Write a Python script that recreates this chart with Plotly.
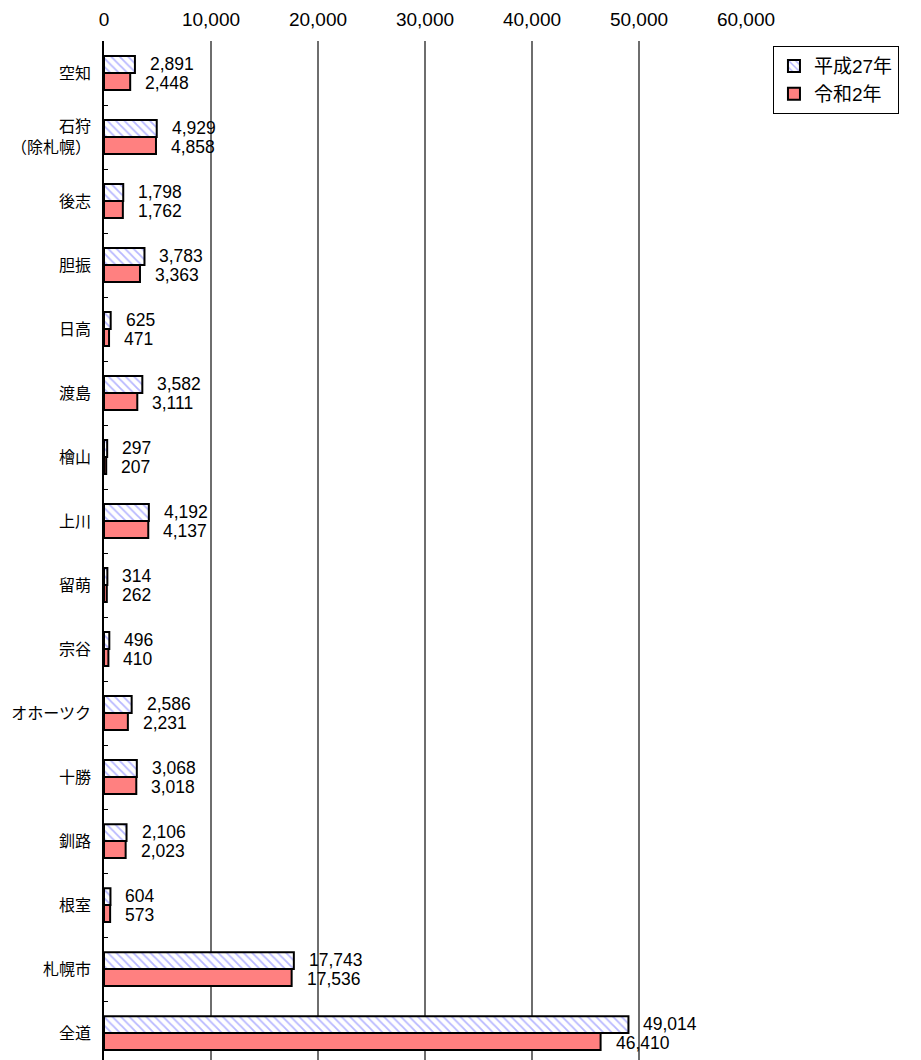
import plotly.graph_objects as go

categories = ["空知", "石狩<br>（除札幌）", "後志", "胆振", "日高", "渡島", "檜山", "上川",
              "留萌", "宗谷", "オホーツク", "十勝", "釧路", "根室", "札幌市", "全道"]
h27 = [2891, 4929, 1798, 3783, 625, 3582, 297, 4192, 314, 496, 2586, 3068, 2106, 604, 17743, 49014]
r2 = [2448, 4858, 1762, 3363, 471, 3111, 207, 4137, 262, 410, 2231, 3018, 2023, 573, 17536, 46410]
series_names = ["平成27年", "令和2年"]
x_ticks = [0, 10000, 20000, 30000, 40000, 50000, 60000]

FONT = "Liberation Sans, Noto Sans CJK JP, sans-serif"

fig = go.Figure()
fig.add_trace(go.Bar(
    y=categories, x=h27, orientation="h", name=series_names[0],
    marker=dict(color="white", line=dict(color="black", width=2),
                pattern=dict(shape="\\", fgcolor="#7070ff", bgcolor="white", size=6, solidity=0.3)),
))
fig.add_trace(go.Bar(
    y=categories, x=r2, orientation="h", name=series_names[1],
    marker=dict(color="#ff8080", line=dict(color="black", width=2)),
))

annotations = []
for c, v in zip(categories, h27):
    annotations.append(dict(x=v, y=c, xref="x", yref="y", text=f"{v:,}", showarrow=False,
                            xanchor="left", yanchor="middle", xshift=13, yshift=9.5,
                            font=dict(size=17.5, color="black", family=FONT)))
for c, v in zip(categories, r2):
    annotations.append(dict(x=v, y=c, xref="x", yref="y", text=f"{v:,}", showarrow=False,
                            xanchor="left", yanchor="middle", xshift=13, yshift=-9.5,
                            font=dict(size=17.5, color="black", family=FONT)))

fig.update_layout(
    width=913, height=1052,
    margin=dict(l=96, r=175, t=33, b=0, autoexpand=False),
    paper_bgcolor="white", plot_bgcolor="white",
    font=dict(family=FONT, color="black"),
    barmode="group", bargap=0.47, bargroupgap=0,
    annotations=annotations,
    legend=dict(x=1.042, y=0.995, xanchor="left", yanchor="top",
                bordercolor="black", borderwidth=1, bgcolor="white",
                font=dict(size=19, family=FONT), traceorder="normal",
                itemwidth=30, tracegroupgap=0),
    showlegend=True,
)
fig.update_xaxes(
    side="top", range=[0, 60000], tickvals=x_ticks, tickformat=",",
    showgrid=True, gridcolor="#6e6e6e", gridwidth=1.5,
    zeroline=False, showline=False, ticks="", automargin=False,
    ticklabelstandoff=10,
    tickfont=dict(size=19, family=FONT), fixedrange=True,
)
fig.update_yaxes(
    type="category", range=[15.42, -0.5], automargin=False,
    showgrid=False, zeroline=False, showline=True, linecolor="black", linewidth=1.5,
    ticks="inside", ticklen=4, tickcolor="black", tickson="boundaries",
    ticklabelstandoff=8, tickfont=dict(size=16, family=FONT),
)

fig.write_html("out.html")
